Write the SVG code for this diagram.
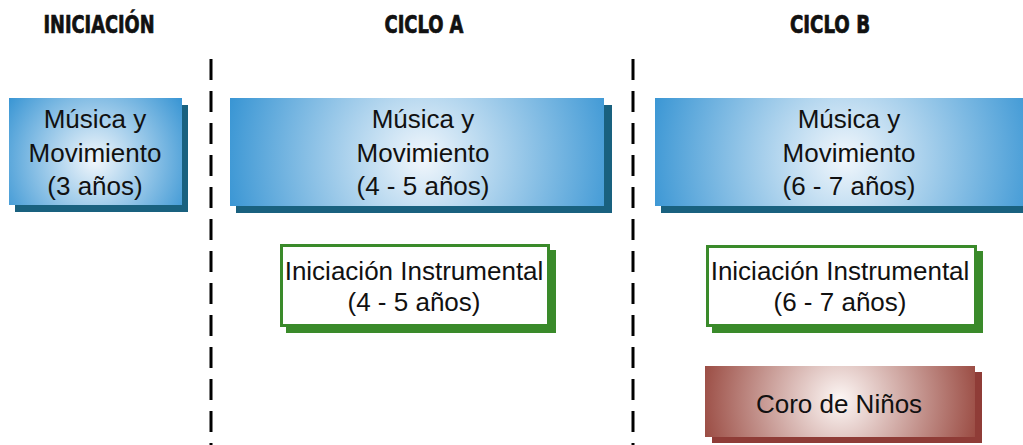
<svg xmlns="http://www.w3.org/2000/svg" width="1023" height="445" viewBox="0 0 1023 445">
<style>
.title{font-family:"DejaVu Sans Condensed","Liberation Sans Narrow","Liberation Sans",sans-serif;font-weight:bold;font-size:24px;fill:#111;stroke:#111;stroke-width:0.7;text-anchor:middle}
.t{font-family:"Liberation Sans","DejaVu Sans",sans-serif;font-size:26px;fill:#111;text-anchor:middle}
.bshadow{fill:#19617f}
.gshadow{fill:#3a8a2a}
.gbox{fill:#fff;stroke:#3a8a2a;stroke-width:3}
.rshadow{fill:#8f3c37}
.divider{stroke:#000;stroke-width:3;stroke-dasharray:21 11;fill:none}
</style>
<defs>
<radialGradient id="blue1" gradientUnits="userSpaceOnUse" cx="95" cy="160" r="105">
<stop offset="0" stop-color="#f2f7fc"/>
<stop offset="1" stop-color="#3a96d4"/>
</radialGradient>
<radialGradient id="blue2" gradientUnits="userSpaceOnUse" cx="423" cy="158" r="200">
<stop offset="0" stop-color="#f2f7fc"/>
<stop offset="1" stop-color="#3a96d4"/>
</radialGradient>
<radialGradient id="blue3" gradientUnits="userSpaceOnUse" cx="845" cy="158" r="200">
<stop offset="0" stop-color="#f2f7fc"/>
<stop offset="1" stop-color="#3a96d4"/>
</radialGradient>
<radialGradient id="red" gradientUnits="userSpaceOnUse" cx="840" cy="400" r="145">
<stop offset="0" stop-color="#fdf7f5"/>
<stop offset="1" stop-color="#97463d"/>
</radialGradient>
</defs>
<rect width="1023" height="445" fill="#fff"/>
<g id="titles">
<text class="title" x="99" y="33" textLength="111" lengthAdjust="spacingAndGlyphs">INICIACIÓN</text>
<text class="title" x="424" y="33" textLength="79" lengthAdjust="spacingAndGlyphs">CICLO A</text>
<text class="title" x="830" y="33" textLength="80" lengthAdjust="spacingAndGlyphs">CICLO B</text>
</g>
<g id="connectors">
<line class="divider" x1="211" y1="59" x2="211" y2="445"/>
<line class="divider" x1="633" y1="59" x2="633" y2="445"/>
</g>
<g id="mm-iniciacion">
<rect class="bshadow" x="15" y="105" width="173" height="107"/>
<rect x="9" y="98" width="173" height="107" fill="url(#blue1)"/>
<text class="t" x="95" y="128">Música y</text>
<text class="t" x="95" y="162">Movimiento</text>
<text class="t" x="95" y="195">(3 años)</text>
</g>
<g id="mm-ciclo-a">
<rect class="bshadow" x="236" y="105" width="376" height="108"/>
<rect x="230" y="98" width="374" height="108" fill="url(#blue2)"/>
<text class="t" x="423" y="128">Música y</text>
<text class="t" x="423" y="162">Movimiento</text>
<text class="t" x="423" y="195">(4 - 5 años)</text>
</g>
<g id="mm-ciclo-b">
<rect class="bshadow" x="661" y="105" width="362" height="108"/>
<rect x="655" y="98" width="368" height="108" fill="url(#blue3)"/>
<text class="t" x="849" y="128">Música y</text>
<text class="t" x="849" y="162">Movimiento</text>
<text class="t" x="849" y="195">(6 - 7 años)</text>
</g>
<g id="ii-ciclo-a">
<rect class="gshadow" x="286" y="250" width="270" height="83"/>
<rect class="gbox" x="281.5" y="245.5" width="267" height="80"/>
<text class="t" x="414" y="280">Iniciación Instrumental</text>
<text class="t" x="414" y="311">(4 - 5 años)</text>
</g>
<g id="ii-ciclo-b">
<rect class="gshadow" x="712" y="251" width="271" height="82"/>
<rect class="gbox" x="707.5" y="246.5" width="268" height="79"/>
<text class="t" x="840" y="280">Iniciación Instrumental</text>
<text class="t" x="840" y="311">(6 - 7 años)</text>
</g>
<g id="coro">
<rect class="rshadow" x="712" y="372" width="270" height="71"/>
<rect x="705" y="366" width="270" height="71" fill="url(#red)"/>
<text class="t" x="839" y="413">Coro de Niños</text>
</g>
</svg>
